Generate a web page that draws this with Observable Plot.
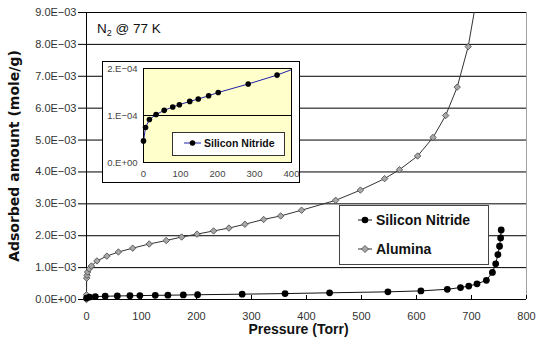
<!DOCTYPE html>
<html>
<head>
<meta charset="utf-8">
<script src="https://cdn.jsdelivr.net/npm/d3@7"></script>
<script src="https://cdn.jsdelivr.net/npm/@observablehq/plot@0.6"></script>
<style>
  html, body { margin: 0; padding: 0; background: #fff; }
  #wrap { position: relative; width: 537px; height: 347px; overflow: hidden; font-family: "Liberation Sans", Arial, sans-serif; }
  #wrap svg { display: block; }
  .abs { position: absolute; }
  #title { left: 97px; top: 21px; font-size: 13.5px; color: #111; white-space: nowrap; }
  #title sub { font-size: 9px; vertical-align: -3px; line-height: 0; }
  #inset { left: 102px; top: 61px; border: 1px solid #000; background: #fff; width: 196px; height: 120px; }
  .legend { background: #fff; box-sizing: border-box; }
  #legMain { left: 339px; top: 205px; width: 150px; height: 60px; border: 1px solid #444; }
  #legInset { left: 172px; top: 132px; width: 113px; height: 24px; border: 1px solid #333; }
  .row { position: absolute; display: flex; align-items: center; white-space: nowrap; font-weight: bold; color: #111; }
</style>
</head>
<body>
<div id="wrap"></div>
<script>
// ---------------- data ----------------
const seriesNames = ["Silicon Nitride", "Alumina"];

// Silicon Nitride isotherm: pressure (Torr) and adsorbed amount (mole/g)
const siPressure = [0, 5.5, 16, 34, 56, 79, 97, 125, 148, 176, 202, 283, 361, 442, 548, 608, 656, 680, 695, 710, 727, 738, 744, 748, 751, 753, 754];
const siAmount   = [4.6e-5, 7.45e-5, 9.15e-5, 1.02e-4, 1.11e-4, 1.18e-4, 1.23e-4, 1.30e-4, 1.35e-4, 1.42e-4, 1.49e-4, 1.67e-4, 1.86e-4, 2.1e-4, 2.4e-4, 2.7e-4, 3.2e-4, 3.75e-4, 4.2e-4, 4.9e-4, 6.0e-4, 8.5e-4, 1.12e-3, 1.41e-3, 1.67e-3, 1.93e-3, 2.18e-3];

// Alumina isotherm
const alPressure = [0, 0, 0.3, 1, 2, 5, 9, 19, 37, 58, 84, 114, 145, 173, 201, 231, 259, 288, 322, 353, 391, 453, 498, 542, 569, 602, 630, 653, 674, 694, 715];
const alAmount   = [0, 1.5e-4, 6.7e-4, 7.6e-4, 8.6e-4, 9.6e-4, 1.05e-3, 1.21e-3, 1.36e-3, 1.49e-3, 1.61e-3, 1.74e-3, 1.85e-3, 1.96e-3, 2.05e-3, 2.15e-3, 2.24e-3, 2.36e-3, 2.51e-3, 2.62e-3, 2.80e-3, 3.11e-3, 3.43e-3, 3.79e-3, 4.07e-3, 4.5e-3, 5.08e-3, 5.77e-3, 6.66e-3, 7.93e-3, 1.0e-2];

// axis ticks
const xTicks = [0, 100, 200, 300, 400, 500, 600, 700, 800];
const yTicks = [0, 0.001, 0.002, 0.003, 0.004, 0.005, 0.006, 0.007, 0.008, 0.009];
const insetXTicks = [0, 100, 200, 300, 400];
const insetYTicks = [0, 0.0001, 0.0002];

const titleText = "N<sub>2</sub> @ 77 K";
const xLabel = "Pressure (Torr)";
const yLabel = "Adsorbed amount (mole/g)";

// ---------------- helpers ----------------
const si = siPressure.map((p, i) => ({p, v: siAmount[i]}));
const al = alPressure.map((p, i) => ({p, v: alAmount[i]}));
const yMax = 0.009, xMax = 800;
const insetYMax = 0.0002, insetXMax = 400;

function fmtE(d, digits) {
  const [m, e] = d.toExponential(digits).split("e");
  const n = Math.abs(+e);
  const mm = digits === 0 ? m + "." : m;
  return mm + "E" + (+e < 0 ? "\u2212" : "+") + String(n).padStart(2, "0");
}

const wrap = document.getElementById("wrap");

// ---------------- main chart ----------------
const main = Plot.plot({
  width: 537, height: 347,
  marginLeft: 86, marginRight: 11, marginTop: 12, marginBottom: 48,
  x: {domain: [0, xMax]},
  y: {domain: [0, yMax]},
  style: {fontFamily: "Liberation Sans, Arial, sans-serif", fontSize: "11px", color: "#333", background: "#fff", overflow: "hidden"},
  marks: [
    Plot.gridY(yTicks, {stroke: "#000", strokeOpacity: 1, strokeWidth: 1}),
    Plot.ruleX([xMax], {stroke: "#a0a0a0"}),
    Plot.ruleX([0], {stroke: "#000"}),
    Plot.axisY(yTicks, {tickFormat: d => fmtE(d, 1), tickSize: 8, tickPadding: 2, label: null, stroke: "#000"}),
    Plot.axisX(xTicks, {tickSize: 4, dy: -4, tickPadding: 13, label: null, stroke: "#000"}),
    Plot.text([yLabel], {frameAnchor: "left", textAnchor: "middle", lineAnchor: "middle", rotate: -90, dx: -72, fontFamily: "DejaVu Sans", fontWeight: "bold", fontSize: 14, fill: "#111"}),
    Plot.text([xLabel], {frameAnchor: "bottom", textAnchor: "middle", lineAnchor: "middle", dx: -8, dy: 30, fontWeight: "bold", fontSize: 14, fill: "#111"}),
    Plot.line(al, {x: "p", y: "v", stroke: "#333", strokeWidth: 1, clip: true}),
    Plot.dot(al.filter(d => d.v <= yMax), {x: "p", y: "v", symbol: "diamond2", r: 2.9, fill: "#a8a8a8", stroke: "#444", strokeWidth: 0.8}),
    Plot.line(si, {x: "p", y: "v", stroke: "#111", strokeWidth: 1, clip: true}),
    Plot.dot(si, {x: "p", y: "v", r: 3.4, fill: "#000", stroke: "none"}),
    Plot.ruleY([0], {stroke: "#000"})
  ]
});
wrap.appendChild(main);

// title
const title = document.createElement("div");
title.className = "abs";
title.id = "title";
title.innerHTML = titleText;
wrap.appendChild(title);

// ---------------- inset chart ----------------
const insetBox = document.createElement("div");
insetBox.className = "abs";
insetBox.id = "inset";
const inset = Plot.plot({
  width: 196, height: 120,
  marginLeft: 40, marginRight: 8, marginTop: 6, marginBottom: 20,
  x: {domain: [0, insetXMax]},
  y: {domain: [0, insetYMax]},
  style: {fontFamily: "Liberation Sans, Arial, sans-serif", fontSize: "9.5px", color: "#444", background: "transparent"},
  marks: [
    Plot.frame({fill: "#ffffcc", stroke: null}),
    Plot.gridY([insetYTicks[1]], {stroke: "#000", strokeOpacity: 1}),
    Plot.axisY(insetYTicks, {tickFormat: d => fmtE(d, 0), tickSize: 0, tickPadding: 6, label: null}),
    Plot.axisX(insetXTicks, {tickSize: 0, tickPadding: 8, label: null}),
    Plot.line(si, {x: "p", y: "v", stroke: "#2020a8", strokeWidth: 1, clip: true}),
    Plot.dot(si.filter(d => d.p <= insetXMax && d.v <= insetYMax), {x: "p", y: "v", r: 2.8, fill: "#000"}),
    Plot.frame({stroke: "#000"})
  ]
});
insetBox.appendChild(inset);
wrap.appendChild(insetBox);

// ---------------- legends ----------------
function swatch(kind, lineColor, w, r) {
  const ns = "http://www.w3.org/2000/svg";
  const s = document.createElementNS(ns, "svg");
  s.setAttribute("width", w); s.setAttribute("height", 10);
  const ln = document.createElementNS(ns, "line");
  ln.setAttribute("x1", 0); ln.setAttribute("x2", w); ln.setAttribute("y1", 5); ln.setAttribute("y2", 5);
  ln.setAttribute("stroke", lineColor); ln.setAttribute("stroke-width", 1);
  s.appendChild(ln);
  const c = w / 2;
  if (kind === "dot") {
    const el = document.createElementNS(ns, "circle");
    el.setAttribute("cx", c); el.setAttribute("cy", 5); el.setAttribute("r", r);
    el.setAttribute("fill", "#000");
    s.appendChild(el);
  } else {
    const el = document.createElementNS(ns, "path");
    el.setAttribute("d", `M${c},${5 - r}L${c + r},5L${c},${5 + r}L${c - r},5Z`);
    el.setAttribute("fill", "#a8a8a8"); el.setAttribute("stroke", "#444"); el.setAttribute("stroke-width", 0.8);
    s.appendChild(el);
  }
  return s;
}

function makeLegend(id, rows) {
  const box = document.createElement("div");
  box.className = "abs legend";
  box.id = id;
  rows.forEach(rw => {
    const row = document.createElement("div");
    row.className = "row";
    row.style.left = rw.left + "px";
    row.style.top = rw.top + "px";
    row.style.fontSize = rw.fontSize + "px";
    const sw = swatch(rw.kind, rw.lineColor, rw.w, rw.r);
    sw.style.marginRight = rw.gap + "px";
    row.appendChild(sw);
    const t = document.createElement("span");
    t.textContent = rw.name;
    row.appendChild(t);
    box.appendChild(row);
  });
  wrap.appendChild(box);
}

makeLegend("legMain", [
  {name: seriesNames[0], kind: "dot", lineColor: "#111", w: 14, r: 3.3, left: 18, top: 6, fontSize: 14, gap: 4},
  {name: seriesNames[1], kind: "diamond", lineColor: "#333", w: 14, r: 3.5, left: 18, top: 35, fontSize: 14, gap: 4}
]);
makeLegend("legInset", [
  {name: seriesNames[0], kind: "dot", lineColor: "#2020a8", w: 17, r: 2.8, left: 11, top: 4, fontSize: 10.5, gap: 3}
]);
</script>
</body>
</html>
